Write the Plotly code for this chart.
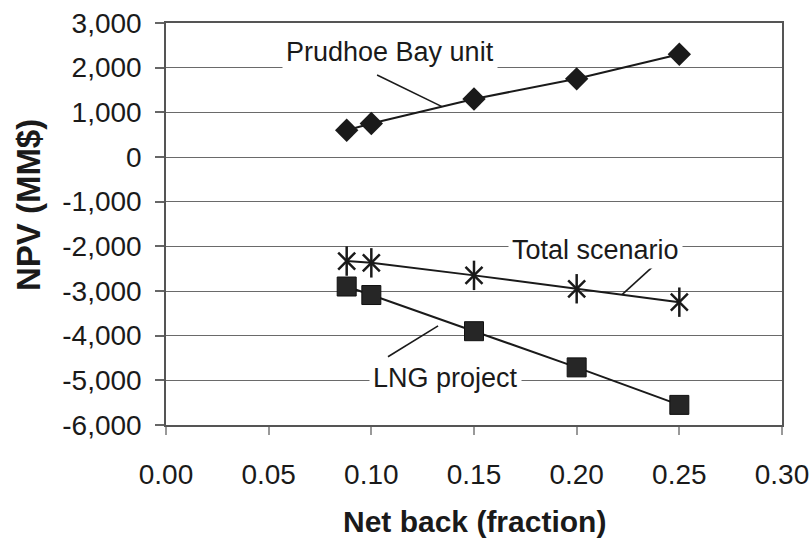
import plotly.graph_objects as go

net_back = [0.088, 0.10, 0.15, 0.20, 0.25]
prudhoe_npv = [600, 750, 1300, 1750, 2300]
total_npv = [-2330, -2370, -2650, -2950, -3250]
lng_npv = [-2900, -3090, -3900, -4710, -5550]

x_ticks = [0.00, 0.05, 0.10, 0.15, 0.20, 0.25, 0.30]
x_tick_labels = ["0.00", "0.05", "0.10", "0.15", "0.20", "0.25", "0.30"]
y_ticks = [3000, 2000, 1000, 0, -1000, -2000, -3000, -4000, -5000, -6000]
y_tick_labels = ["3,000", "2,000", "1,000", "0", "-1,000", "-2,000",
                 "-3,000", "-4,000", "-5,000", "-6,000"]

FONT = "Liberation Sans, Arial, sans-serif"
INK = "#1a1a1a"

fig = go.Figure()

# Prudhoe Bay unit
fig.add_trace(go.Scatter(
    x=net_back, y=prudhoe_npv, mode="lines+markers", name="Prudhoe Bay unit",
    line=dict(color=INK, width=2),
    marker=dict(symbol="diamond", size=18, color=INK),
))
# Total scenario (asterisk = X + vertical bar)
fig.add_trace(go.Scatter(
    x=net_back, y=total_npv, mode="lines+markers", name="Total scenario",
    line=dict(color=INK, width=2),
    marker=dict(symbol="x-thin-open", size=17, color=INK, line=dict(color=INK, width=2.5)),
))
fig.add_trace(go.Scatter(
    x=net_back, y=total_npv, mode="markers", showlegend=False, hoverinfo="skip",
    marker=dict(symbol="line-ns-open", size=21, color=INK, line=dict(color=INK, width=2.5)),
))
# LNG project
fig.add_trace(go.Scatter(
    x=net_back, y=lng_npv, mode="lines+markers", name="LNG project",
    line=dict(color=INK, width=2),
    marker=dict(symbol="square", size=19, color="#262626",
                line=dict(color="#111111", width=1)),
))

# leader lines
leader = dict(color=INK, width=1.6)
shapes = [
    dict(type="line", xref="x", yref="y", x0=0.1028, y0=1837, x1=0.1344, y1=1128, line=leader),
    dict(type="line", xref="x", yref="y", x0=0.2396, y0=-2347, x1=0.2221, y1=-3080, line=leader),
    dict(type="line", xref="x", yref="y", x0=0.1081, y0=-4472, x1=0.1325, y1=-3780, line=leader),
]

ann_font = dict(family=FONT, size=27, color=INK)
annotations = [
    dict(x=0.1091, y=2351, xref="x", yref="y", text="Prudhoe Bay unit", showarrow=False,
         font=ann_font, bgcolor="white", borderpad=3),
    dict(x=0.2094, y=-2078, xref="x", yref="y", text="Total scenario", showarrow=False,
         font=ann_font, bgcolor="white", borderpad=3),
    dict(x=0.1359, y=-4942, xref="x", yref="y", text="LNG project", showarrow=False,
         font=ann_font, bgcolor="white", borderpad=3),
    dict(x=-0.224, y=0.547, xref="paper", yref="paper", text="<b>NPV (MM$)</b>",
         textangle=-90, showarrow=False, xanchor="center", yanchor="middle",
         font=dict(family=FONT, size=33, color=INK)),
    dict(x=0.5, y=-0.241, xref="paper", yref="paper", text="<b>Net back (fraction)</b>",
         showarrow=False, xanchor="center", yanchor="middle",
         font=dict(family=FONT, size=30, color=INK)),
]

fig.update_layout(
    width=811, height=547,
    margin=dict(l=166, r=29, t=23, b=122, autoexpand=False),
    paper_bgcolor="white", plot_bgcolor="white",
    showlegend=False,
    font=dict(family=FONT, color=INK),
    shapes=shapes, annotations=annotations,
)

fig.update_xaxes(
    range=[0, 0.30], tickvals=x_ticks, ticktext=x_tick_labels,
    showgrid=False, zeroline=False, automargin=False,
    showline=True, mirror=True, linecolor="#555555", linewidth=1.5,
    ticks="outside", ticklen=8, tickcolor="#999999", tickwidth=1.5,
    ticklabelstandoff=16,
    tickfont=dict(family=FONT, size=28, color=INK),
)
fig.update_yaxes(
    range=[-6000, 3000], tickvals=y_ticks, ticktext=y_tick_labels,
    showgrid=True, gridcolor="#6a6a6a", gridwidth=1.3, zeroline=False, automargin=False,
    showline=True, mirror=True, linecolor="#555555", linewidth=1.5,
    ticks="outside", ticklen=9, tickcolor="#666666", tickwidth=1.5,
    ticklabelstandoff=8,
    tickfont=dict(family=FONT, size=28, color=INK),
)

fig.write_html("out.html", config={"displayModeBar": False},
               post_script="document.body.style.margin='0';document.body.style.overflow='hidden';")
